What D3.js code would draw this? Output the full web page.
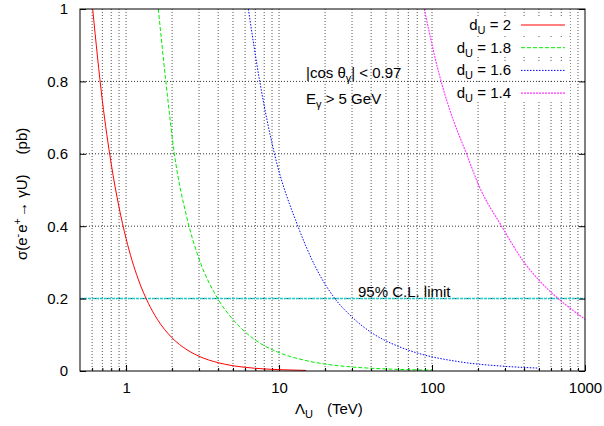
<!DOCTYPE html>
<html lang="en">
	<head>
		<meta charset="UTF-8" />
		<script src="https://cdnjs.cloudflare.com/ajax/libs/d3/7.8.5/d3.min.js"></script>
		<style>
			body { margin: 0; background: #fff; }
			text { font-family: 'Liberation Sans', Arial, sans-serif; fill: #000; }
		</style>
	</head>
	<body>
		<div class="chart"></div>
		<script>
			// data
			const xTicks = [1, 10, 100, 1000]
			const yTicks = [0, 0.2, 0.4, 0.6, 0.8, 1]
			const dNames = ['2', '1.8', '1.6', '1.4']

			const lambda20 = [0.605, 0.7, 0.8, 0.9, 1, 1.2, 1.4, 1.6, 2, 2.5, 3, 4, 5, 6, 8, 10, 15]
			const sigma20 = [1, 0.747, 0.572, 0.452, 0.366, 0.254, 0.187, 0.143, 0.0915, 0.0586, 0.0407, 0.0229, 0.0146, 0.0102, 0.0057, 0.0037, 0.0016]

			const lambda18 = [1.625, 1.82, 2.07, 2.5, 3, 4, 5, 6, 8, 10, 15, 20, 30, 50, 100]
			const sigma18 = [1, 0.8, 0.6, 0.423, 0.31, 0.198, 0.142, 0.108, 0.07, 0.0508, 0.0288, 0.0192, 0.0111, 0.0057, 0.0023]

			const lambda16 = [6.3, 7.5, 9.3, 13.4, 17, 22.9, 30, 40, 60, 80, 150, 300, 490]
			const sigma16 = [1, 0.797, 0.603, 0.396, 0.294, 0.203, 0.149, 0.1066, 0.0683, 0.0498, 0.0257, 0.0129, 0.0081]

			const lambda14 = [89, 111, 130, 168, 204, 285, 405, 500, 668, 820, 1000]
			const sigma14 = [1, 0.822, 0.724, 0.6, 0.509, 0.4, 0.297, 0.251, 0.2, 0.17, 0.143]

			const limit = 0.2

			const series = [
				{ name: dNames[0], x: lambda20, y: sigma20, color: '#ff0000', dash: null, width: 1 },
				{ name: dNames[1], x: lambda18, y: sigma18, color: '#00ee00', dash: '4,2', width: 1 },
				{ name: dNames[2], x: lambda16, y: sigma16, color: '#0000ff', dash: '1.5,1.5', width: 1 },
				{ name: dNames[3], x: lambda14, y: sigma14, color: '#ff33ff', dash: '2,1', width: 1.1 }
			]

			const width = 604
			const height = 426
			const pLeft = 80, pRight = 585, pTop = 9, pBottom = 371
			const font = "'Liberation Sans', Arial, sans-serif"

			const svg = d3
				.select('.chart')
				.append('svg')
				.attr('width', width)
				.attr('height', height)

			const xScale = d3.scaleLog().domain([0.5, 1000]).range([pLeft, pRight])
			const yScale = d3.scaleLinear().domain([0, 1]).range([pBottom, pTop])

			// minor positions 2..9 per decade plus 0.6..0.9
			const minorX = []
			for (let p = -1; p < 3; p++) {
				for (let m = 1; m <= 9; m++) {
					const v = m * Math.pow(10, p)
					if (v > 0.5 && v < 1000) minorX.push(v)
				}
			}

			// grid
			const grid = svg.append('g')
			grid.selectAll('.vgrid')
				.data(minorX)
				.join('line')
				.attr('x1', d => xScale(d))
				.attr('x2', d => xScale(d))
				.attr('y1', pTop)
				.attr('y2', pBottom)
				.attr('stroke', '#555')
				.attr('stroke-dasharray', '1,2')
			grid.selectAll('.hgrid')
				.data(yTicks.slice(1, -1))
				.join('line')
				.attr('x1', pLeft)
				.attr('x2', pRight)
				.attr('y1', d => yScale(d))
				.attr('y2', d => yScale(d))
				.attr('stroke', '#333')
				.attr('stroke-dasharray', '1,2')

			// 95% limit line
			svg.append('line')
				.attr('x1', pLeft)
				.attr('x2', pRight)
				.attr('y1', yScale(limit))
				.attr('y2', yScale(limit))
				.attr('stroke', '#22cccc')
				.attr('stroke-width', 1.5)
				.attr('stroke-dasharray', '3,1')

			// axes
			svg.append('g')
				.attr('transform', `translate(0, ${pBottom})`)
				.call(d3.axisTop(xScale).tickValues(minorX).tickSize(3).tickFormat(''))
				.call(g => g.select('.domain').remove())
			svg.append('g')
				.attr('transform', `translate(0, ${pBottom})`)
				.call(d3.axisTop(xScale).tickValues(xTicks).tickSize(6).tickFormat(''))
				.call(g => g.select('.domain').remove())
			svg.append('g')
				.attr('transform', `translate(0, ${pBottom + 8})`)
				.call(d3.axisBottom(xScale).tickValues(xTicks).tickSize(0).tickFormat(d3.format('d')))
				.call(g => g.select('.domain').remove())
				.call(g => g.selectAll('text').style('font-size', '15px').style('font-family', font).attr('fill', '#000'))

			svg.append('g')
				.attr('transform', `translate(${pLeft}, 0)`)
				.call(d3.axisRight(yScale).tickValues(yTicks).tickSize(6).tickFormat(''))
				.call(g => g.select('.domain').remove())
			svg.append('g')
				.attr('transform', `translate(${pRight}, 0)`)
				.call(d3.axisLeft(yScale).tickValues(yTicks).tickSize(6).tickFormat(''))
				.call(g => g.select('.domain').remove())
			svg.append('g')
				.attr('transform', `translate(${pLeft - 9}, 0)`)
				.call(d3.axisLeft(yScale).tickValues(yTicks).tickSize(0).tickFormat(d => d === 0 || d === 1 ? d3.format('d')(d) : d3.format('.1f')(d)))
				.call(g => g.select('.domain').remove())
				.call(g => g.selectAll('text').style('font-size', '15px').style('font-family', font).attr('fill', '#000'))

			// curves
			const clip = svg.append('clipPath').attr('id', 'plotclip')
			clip.append('rect').attr('x', pLeft).attr('y', pTop).attr('width', pRight - pLeft).attr('height', pBottom - pTop)

			const line = d3.line()
				.x(d => xScale(d[0]))
				.y(d => yScale(d[1]))
				.curve(d3.curveMonotoneX)

			svg.append('g')
				.attr('clip-path', 'url(#plotclip)')
				.selectAll('path')
				.data(series)
				.join('path')
				.attr('d', s => line(s.x.map((v, i) => [v, s.y[i]])))
				.attr('fill', 'none')
				.attr('stroke', s => s.color)
				.attr('stroke-width', s => s.width)
				.attr('stroke-dasharray', s => s.dash)

			// frame
			svg.append('rect')
				.attr('x', pLeft)
				.attr('y', pTop)
				.attr('width', pRight - pLeft)
				.attr('height', pBottom - pTop)
				.attr('fill', 'none')
				.attr('stroke', '#000')

			// legend
			const legend = svg.append('g')
			series.forEach((s, i) => {
				const y = 25 + i * 22.7
				legend.append('rect')
					.attr('x', 450)
					.attr('y', y - 9)
					.attr('width', 120)
					.attr('height', 18)
					.attr('fill', '#fff')
				const t = legend.append('text')
					.attr('x', 511)
					.attr('y', y + 5)
					.attr('text-anchor', 'end')
					.style('font-size', '15px')
				t.append('tspan').text('d')
				t.append('tspan').attr('dy', 4).style('font-size', '11px').text('U')
				t.append('tspan').attr('dy', -4).text(' = ' + s.name)
				legend.append('line')
					.attr('x1', 521)
					.attr('x2', 565)
					.attr('y1', y)
					.attr('y2', y)
					.attr('stroke', s.color)
					.attr('stroke-width', s.width)
					.attr('stroke-dasharray', s.dash)
			})

			// annotations
			const cut1 = svg.append('text').attr('x', 306).attr('y', 78).style('font-size', '15px')
			cut1.append('tspan').text('|cos θ')
			cut1.append('tspan').attr('dy', 4).style('font-size', '11px').text('γ')
			cut1.append('tspan').attr('dy', -4).text('| < 0.97')

			const cut2 = svg.append('text').attr('x', 306).attr('y', 104).style('font-size', '15px')
			cut2.append('tspan').text('E')
			cut2.append('tspan').attr('dy', 4).style('font-size', '11px').text('γ')
			cut2.append('tspan').attr('dy', -4).text(' > 5 GeV')

			svg.append('text')
				.attr('x', 358)
				.attr('y', 297)
				.style('font-size', '15px')
				.text('95% C.L. limit')

			// axis titles
			const xt = svg.append('text').attr('x', 295).attr('y', 414).style('font-size', '15px')
			xt.append('tspan').text('Λ')
			xt.append('tspan').attr('dy', 4).style('font-size', '11px').text('U')
			xt.append('tspan').attr('dy', -4).attr('dx', 14).text('(TeV)')

			const yt = svg.append('text')
				.attr('transform', 'translate(27, 260) rotate(-90)')
				.style('font-size', '15px')
			yt.append('tspan').text('σ(e')
			yt.append('tspan').attr('dy', -6).style('font-size', '11px').text('-')
			yt.append('tspan').attr('dy', 6).attr('dx', 1).text('e')
			yt.append('tspan').attr('dy', -6).style('font-size', '11px').text('+')
			yt.append('tspan').attr('dy', 6).attr('dx', 1).text('→ γU)')
			yt.append('tspan').attr('dx', 20).text('(pb)')
		</script>
	</body>
</html>
